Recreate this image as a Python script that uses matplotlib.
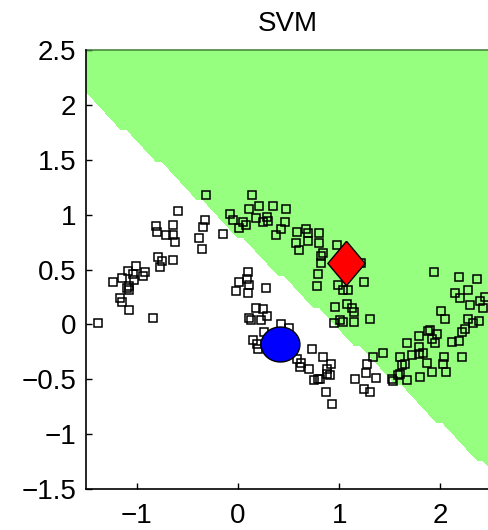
import numpy as np
import matplotlib.pyplot as plt
from matplotlib.path import Path
from matplotlib.ticker import FuncFormatter

plt.rcParams['font.family'] = ['Liberation Sans', 'DejaVu Sans']

# training points (two moons)
x_pts = [-0.59, -0.81, -0.64, -0.80, -0.71, -0.64, -0.62, -0.38, -0.32, -0.34,
         -0.35, -0.15, -0.79, -0.75, -0.64, -0.77, -1.01, -1.09, -0.92, -1.04,
         -0.94, -1.14, -1.23, -1.03, -1.08, -1.08, -1.16, -1.14, -1.08, -0.84,
         -1.38, -1.10,
         0.10, 0.09, 0.01, 0.11, -0.02, 0.10, 0.28, 0.18, 0.25, 0.11,
         0.13, 0.23, 0.29, 0.43, 0.50, 0.15, 0.19, 0.20, 0.26, 0.73,
         0.58, 0.62, 0.61, 0.70, 0.84, 0.92, 0.88, 0.88, 0.79, 0.75,
         0.81, 0.87, 0.91, 0.93,
         1.33, 1.43, 1.28, 1.27, 1.16, 1.36, 1.25, 1.30, 1.52, 1.53,
         1.58, 1.60, 1.65, 1.62, 1.67, 1.72, 1.79, 1.79, 1.83, 1.87,
         1.79, 1.88, 1.60, 1.67, 1.80, 1.90, 1.97, 1.92, 1.95, 2.04,
         2.03, 2.06, 1.92, 2.11, 2.18, 2.21, 2.21, 2.24, 2.01, 2.05,
         2.27, 2.38, 2.32, 1.94, 2.18, 2.36, 2.14, 2.27, 2.19, 2.44,
         2.29, 2.39, 2.42,
         -0.31, 0.14, -0.08, 0.11, 0.21, 0.35, 0.48, -0.05, 0.05, 0.01,
         0.08, 0.18, 0.29, 0.25, 0.30, 0.47, 0.43, 0.38, 0.58, 0.67,
         0.69, 0.80, 0.69, 0.57, 0.60, 0.80, 0.98, 0.84, 0.82, 1.22,
         0.79, 0.78, 0.99, 1.04, 1.25, 1.09, 0.96, 1.08, 1.13, 1.15,
         1.30, 0.95, 1.04, 1.15, 1.01, 0.82]
y_pts = [1.03, 0.90, 0.91, 0.84, 0.81, 0.81, 0.75, 0.79, 0.95, 0.89,
         0.69, 0.82, 0.61, 0.58, 0.59, 0.52, 0.53, 0.49, 0.48, 0.46,
         0.44, 0.42, 0.39, 0.40, 0.35, 0.31, 0.24, 0.20, 0.13, 0.06,
         0.01, 0.33,
         0.48, 0.41, 0.39, 0.36, 0.30, 0.29, 0.33, 0.15, 0.14, 0.06,
         0.04, 0.04, 0.08, 0.00, -0.03, -0.14, -0.18, -0.22, -0.07, -0.22,
         -0.32, -0.35, -0.39, -0.41, -0.30, -0.36, -0.41, -0.45, -0.50, -0.51,
         -0.50, -0.62, -0.46, -0.73,
         -0.30, -0.26, -0.36, -0.44, -0.50, -0.49, -0.59, -0.62, -0.50, -0.52,
         -0.46, -0.30, -0.36, -0.37, -0.17, -0.28, -0.21, -0.27, -0.26, -0.35,
         -0.11, -0.06, -0.45, -0.51, -0.48, -0.05, -0.09, -0.13, -0.17, -0.30,
         -0.36, -0.43, -0.43, -0.16, -0.15, -0.30, -0.07, -0.04, 0.12, 0.05,
         0.05, 0.03, 0.01, 0.48, 0.43, 0.41, 0.29, 0.31, 0.24, 0.25,
         0.18, 0.21, 0.15,
         1.18, 1.18, 1.01, 1.05, 1.08, 1.08, 1.05, 0.95, 0.93, 0.88,
         0.91, 0.97, 0.98, 0.93, 0.94, 0.93, 0.87, 0.81, 0.84, 0.87,
         0.83, 0.83, 0.76, 0.74, 0.68, 0.74, 0.72, 0.65, 0.56, 0.56,
         0.46, 0.35, 0.36, 0.31, 0.39, 0.31, 0.16, 0.19, 0.15, 0.11,
         0.05, 0.01, 0.02, 0.02, 0.04, 0.62]

# query points
blue_pt = [0.415, -0.18]
red_pt = [1.066, 0.556]

# linear svm: w . [x, y] + b > 0 -> green
svm_w = [0.857, 1.0]
svm_b = -0.815

x_ticks = [-1, 0, 1, 2]
y_ticks = [-1.5, -1, -0.5, 0, 0.5, 1, 1.5, 2, 2.5]

fig = plt.figure(figsize=(4.89, 5.30), dpi=100)
ax = fig.add_axes([86 / 489, 41 / 530, 403 / 489, 439 / 530])

xlim = (-1.5, 2.48)
ylim = (-1.5, 2.5)
gx, gy = np.meshgrid(np.linspace(*xlim, 70), np.linspace(*ylim, 70))
pred = (svm_w[0] * gx + svm_w[1] * gy + svm_b > 0).astype(float)
ax.contourf(gx, gy, pred, levels=[0.5, 1.5], colors=['#96ff80'])
ax.axhline(ylim[1], color='#4a8a40', lw=1.2, clip_on=False)

ax.plot(x_pts, y_pts, 's', ms=5.2, mfc='none', mec='black', mew=1.1)

ell = np.linspace(0, 2 * np.pi, 60)
circ = Path(np.column_stack([1.0 * np.cos(ell), 0.9 * np.sin(ell)]))
diam = Path([(0, 1), (0.84, 0), (0, -1), (-0.84, 0), (0, 1)])
ax.plot(*blue_pt, marker=circ, ms=28, mfc='blue', mec='black', mew=1)
ax.plot(*red_pt, marker=diam, ms=32, mfc='red', mec='black', mew=1)

ax.set_xlim(*xlim)
ax.set_ylim(*ylim)
ax.set_xticks(x_ticks)
ax.set_yticks(y_ticks)
fmt = FuncFormatter(lambda v, p: ('%g' % v).replace('-', '\u2212'))
ax.xaxis.set_major_formatter(fmt)
ax.yaxis.set_major_formatter(fmt)
ax.tick_params(direction='in', length=4, width=1, labelsize=20)
ax.tick_params(axis='x', pad=10)
ax.tick_params(axis='y', pad=7)
for s in ['top', 'right']:
    ax.spines[s].set_visible(False)
for s in ['left', 'bottom']:
    ax.spines[s].set_linewidth(1.2)
ax.set_title('SVM', fontsize=20, pad=14)

fig.savefig('out.png', dpi=100)
